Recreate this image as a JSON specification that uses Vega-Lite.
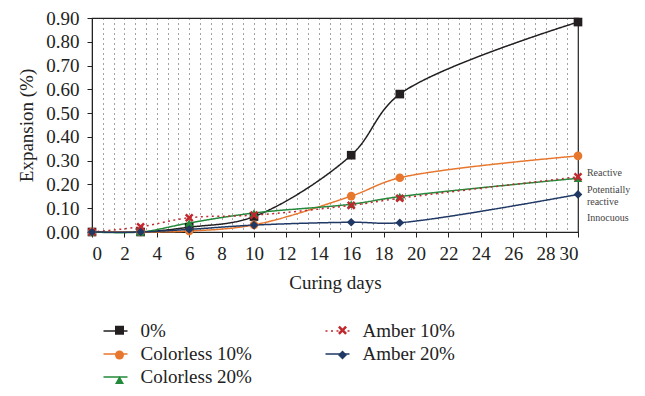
{
  "$schema": "https://vega.github.io/schema/vega-lite/v6.json",
  "width": 486,
  "height": 214,
  "padding": {"left": 17, "top": 9, "right": 5, "bottom": 5},
  "background": "white",
  "config": {
    "font": "Liberation Serif",
    "view": {"stroke": "#222", "strokeWidth": 1.2},
    "axis": {"labelFont": "Liberation Serif", "titleFont": "Liberation Serif", "labelColor": "#222", "titleColor": "#222", "domainColor": "#222", "tickColor": "#222", "labelFontSize": 19, "titleFontSize": 19, "titleFontWeight": "normal"},
    "legend": {"labelFont": "Liberation Serif", "labelFontSize": 19, "labelColor": "#222"}
  },
  "datasets": {
    "expansion": [
      {"series": "0%", "day": 0, "value": 0},
      {"series": "0%", "day": 3, "value": 0},
      {"series": "0%", "day": 6, "value": 0.02},
      {"series": "0%", "day": 10, "value": 0.065},
      {"series": "0%", "day": 16, "value": 0.323},
      {"series": "0%", "day": 19, "value": 0.58},
      {"series": "0%", "day": 30, "value": 0.883},
      {"series": "Colorless 10%", "day": 0, "value": 0},
      {"series": "Colorless 10%", "day": 3, "value": 0},
      {"series": "Colorless 10%", "day": 6, "value": 0.004},
      {"series": "Colorless 10%", "day": 10, "value": 0.03},
      {"series": "Colorless 10%", "day": 16, "value": 0.151},
      {"series": "Colorless 10%", "day": 19, "value": 0.228},
      {"series": "Colorless 10%", "day": 30, "value": 0.32},
      {"series": "Colorless 20%", "day": 0, "value": 0},
      {"series": "Colorless 20%", "day": 3, "value": 0},
      {"series": "Colorless 20%", "day": 6, "value": 0.038},
      {"series": "Colorless 20%", "day": 10, "value": 0.08},
      {"series": "Colorless 20%", "day": 16, "value": 0.117},
      {"series": "Colorless 20%", "day": 19, "value": 0.149},
      {"series": "Colorless 20%", "day": 30, "value": 0.226},
      {"series": "Amber 10%", "day": 0, "value": 0},
      {"series": "Amber 10%", "day": 3, "value": 0.022},
      {"series": "Amber 10%", "day": 6, "value": 0.06},
      {"series": "Amber 10%", "day": 10, "value": 0.071},
      {"series": "Amber 10%", "day": 16, "value": 0.112},
      {"series": "Amber 10%", "day": 19, "value": 0.142},
      {"series": "Amber 10%", "day": 30, "value": 0.232},
      {"series": "Amber 20%", "day": 0, "value": 0},
      {"series": "Amber 20%", "day": 3, "value": 0},
      {"series": "Amber 20%", "day": 6, "value": 0.011},
      {"series": "Amber 20%", "day": 10, "value": 0.029},
      {"series": "Amber 20%", "day": 16, "value": 0.041},
      {"series": "Amber 20%", "day": 19, "value": 0.039},
      {"series": "Amber 20%", "day": 30, "value": 0.158}
    ],
    "zones": [
      {"label": "Reactive", "y": 0.248},
      {"label": "Potentially", "y": 0.177},
      {"label": "reactive", "y": 0.127},
      {"label": "Innocuous", "y": 0.059}
    ]
  },
  "layer": [
    {
      "mark": {"type": "rule", "color": "#555", "strokeWidth": 1.2, "clip": false},
      "encoding": {
        "x": {"datum": 0, "type": "quantitative", "scale": {"domain": [0, 30], "nice": false, "zero": false},
          "axis": {
            "title": "Curing days", "titlePadding": 10,
            "tickCount": 100,
            "values": [0, 0.6667, 1.3333, 2, 2.6667, 3.3333, 4, 4.6667, 5.3333, 6, 6.6667, 7.3333, 8, 8.6667, 9.3333, 10, 10.6667, 11.3333, 12, 12.6667, 13.3333, 14, 14.6667, 15.3333, 16, 16.6667, 17.3333, 18, 18.6667, 19.3333, 20, 20.6667, 21.3333, 22, 22.6667, 23.3333, 24, 24.6667, 25.3333, 26, 26.6667, 27.3333, 28, 28.6667, 29.3333, 30],
            "labelExpr": "abs(datum.value - round(datum.value / 2) * 2) < 0.01 ? '' + round(datum.value) : ''",
            "labelOverlap": false,
            "labelPadding": 7,
            "tickSize": 5,
            "tickOpacity": {"condition": {"test": "abs(datum.value - round(datum.value / 2) * 2) < 0.01", "value": 1}, "value": 0},
            "grid": true,
            "gridColor": "#333",
            "gridDash": [1, 4],
            "gridWidth": 1,
            "gridOpacity": {"condition": {"test": "datum.value < 0.01 || datum.value > 29.99", "value": 0}, "value": 0.9}
          }},
        "x2": {"datum": 30.85},
        "y": {"datum": 0.2, "type": "quantitative", "scale": {"domain": [0, 0.9], "nice": false},
          "axis": {"title": "Expansion (%)", "format": ".2f", "tickCount": 20, "values": [0, 0.1, 0.2, 0.3, 0.4, 0.5, 0.6, 0.7, 0.8, 0.9], "grid": false, "tickSize": 5, "labelPadding": 8, "titlePadding": 9}}
      }
    },
    {
      "mark": {"type": "rule", "color": "#555", "strokeWidth": 1.2, "clip": false},
      "encoding": {
        "x": {"datum": 0, "type": "quantitative"},
        "x2": {"datum": 30.85},
        "y": {"datum": 0.1, "type": "quantitative"}
      }
    },
    {
      "data": {"name": "zones"},
      "mark": {"type": "text", "align": "left", "baseline": "middle", "fontSize": 10, "color": "#444", "font": "Liberation Serif"},
      "encoding": {
        "x": {"datum": 30.55, "type": "quantitative"},
        "y": {"field": "y", "type": "quantitative"},
        "text": {"field": "label"}
      }
    },
    {
      "data": {"name": "expansion"},
      "mark": {"type": "line", "interpolate": "catmull-rom", "strokeWidth": 1.5},
      "encoding": {
        "x": {"field": "day", "type": "quantitative"},
        "y": {"field": "value", "type": "quantitative"},
        "stroke": {
          "field": "series", "type": "nominal",
          "scale": {"domain": ["0%", "Colorless 10%", "Colorless 20%", "Amber 10%", "Amber 20%"], "range": ["#231f20", "#e8772e", "#23893b", "#c1272d", "#1f3864"]},
          "legend": {"title": null, "orient": "none", "legendX": 10.5, "legendY": 300, "columns": 2, "symbolType": "stroke", "symbolSize": 576, "symbolStrokeWidth": 1.5, "labelOffset": 12, "columnPadding": 70, "rowPadding": 0}
        },
        "strokeDash": {
          "field": "series", "type": "nominal",
          "scale": {"domain": ["0%", "Colorless 10%", "Colorless 20%", "Amber 10%", "Amber 20%"], "range": [[1, 0], [1, 0], [1, 0], [2, 3.5], [1, 0]]},
          "legend": {"title": null, "orient": "none", "legendX": 10.5, "legendY": 300, "columns": 2, "symbolType": "stroke", "symbolSize": 576, "symbolStrokeWidth": 1.5, "labelOffset": 12, "columnPadding": 70, "rowPadding": 0}
        }
      }
    },
    {
      "data": {"name": "expansion"},
      "transform": [{"calculate": "datum.series + ' '", "as": "series2"}],
      "mark": {"type": "point", "filled": true, "opacity": 1, "size": 75},
      "encoding": {
        "x": {"field": "day", "type": "quantitative"},
        "y": {"field": "value", "type": "quantitative"},
        "color": {
          "field": "series2", "type": "nominal",
          "scale": {"domain": ["0% ", "Colorless 10% ", "Colorless 20% ", "Amber 10% ", "Amber 20% "], "range": ["#231f20", "#e8772e", "#23893b", "#c1272d", "#1f3864"]},
          "legend": {"title": null, "orient": "none", "legendX": 18, "legendY": 302.5, "columns": 2, "symbolSize": 81, "symbolStrokeWidth": 0, "labelOffset": 27, "columnPadding": 65, "rowPadding": 5, "labelOpacity": 0, "symbolOpacity": 1}
        },
        "shape": {
          "field": "series2", "type": "nominal",
          "scale": {"domain": ["0% ", "Colorless 10% ", "Colorless 20% ", "Amber 10% ", "Amber 20% "], "range": ["square", "circle", "triangle-up", "M-1,-0.6L-0.6,-1L0,-0.4L0.6,-1L1,-0.6L0.4,0L1,0.6L0.6,1L0,0.4L-0.6,1L-1,0.6L-0.4,0Z", "diamond"]},
          "legend": {"title": null, "orient": "none", "legendX": 18, "legendY": 302.5, "columns": 2, "symbolSize": 81, "symbolStrokeWidth": 0, "labelOffset": 27, "columnPadding": 65, "rowPadding": 5, "labelOpacity": 0, "symbolOpacity": 1}
        }
      }
    }
  ]
}
